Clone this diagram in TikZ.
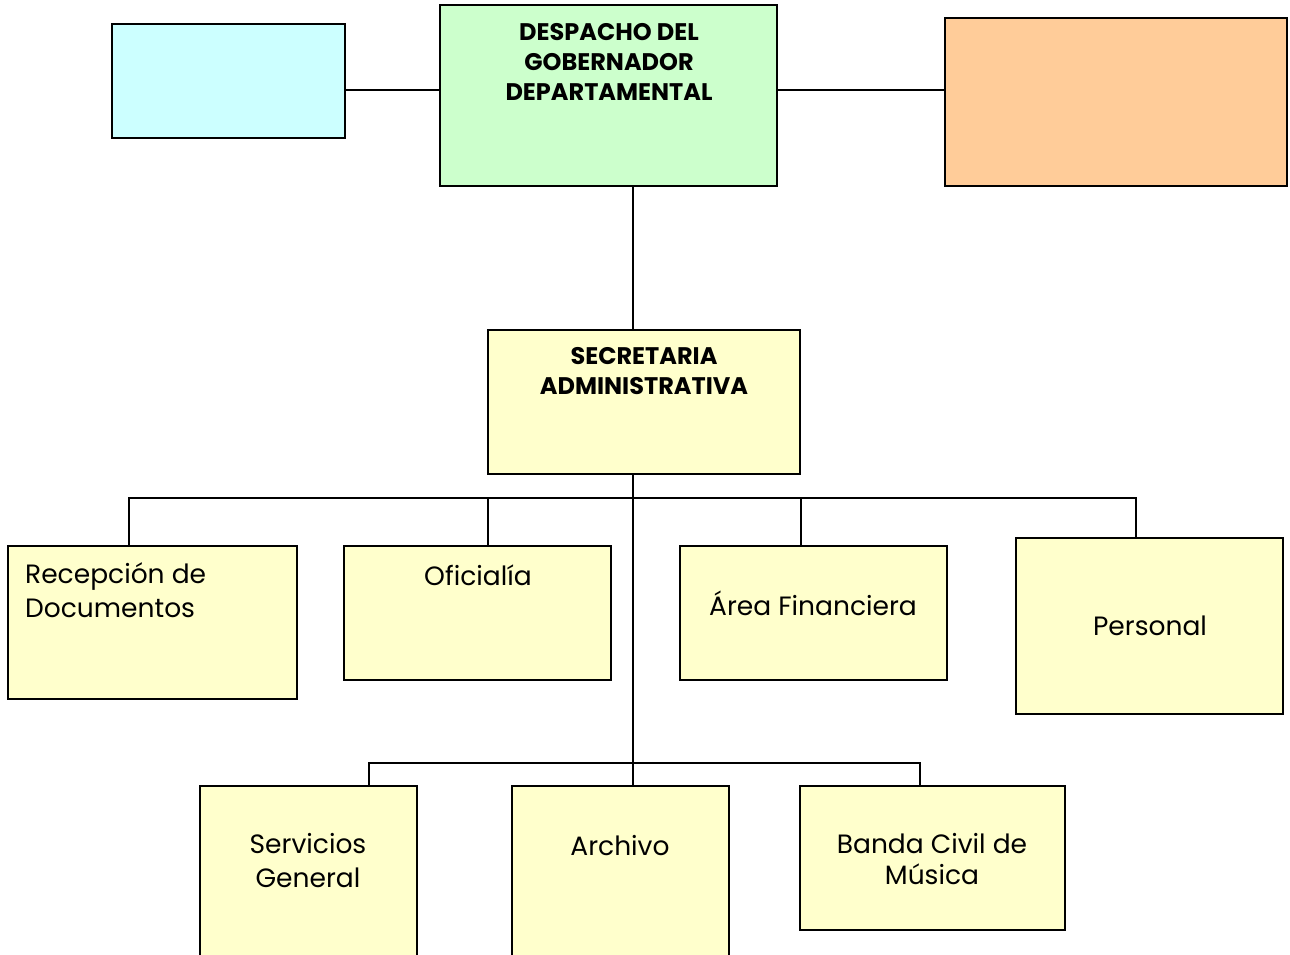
\documentclass[tikz,border=0pt]{standalone}
\usepackage{fontspec}
\setmainfont{Poppins}
\definecolor{cyanbox}{HTML}{CCFFFF}
\definecolor{greenbox}{HTML}{CCFFCC}
\definecolor{orangebox}{HTML}{FFCC99}
\definecolor{yellowbox}{HTML}{FFFFCC}
\tikzset{
  orgbox/.style={draw=black, line width=2pt, rectangle, inner sep=0pt},
  conn/.style={draw=black, line width=2pt},
  boldtxt/.style={font=\fontsize{24}{30}\selectfont\bfseries, align=center, inner sep=0pt},
  normtxt/.style={font=\fontsize{26.5}{34}\selectfont, align=center, inner sep=0pt},
}
\begin{document}
\begin{tikzpicture}[x=1pt,y=-1pt]
\useasboundingbox (0,0) rectangle (1290,954);
\clip (0,0) rectangle (1290,954);
% boxes
\node[orgbox, fill=cyanbox, minimum width=233pt, minimum height=114pt] (c1) at (228.5,81) {};
\node[orgbox, fill=greenbox, minimum width=337pt, minimum height=181pt] (desp) at (608.5,95.5) {};
\node[orgbox, fill=orangebox, minimum width=342pt, minimum height=168pt] (or) at (1116,102) {};
\node[orgbox, fill=yellowbox, minimum width=312pt, minimum height=144pt] (sec) at (644,402) {};
\node[orgbox, fill=yellowbox, minimum width=289pt, minimum height=153pt] (rec) at (152.5,622.5) {};
\node[orgbox, fill=yellowbox, minimum width=267pt, minimum height=134pt] (ofi) at (477.5,613) {};
\node[orgbox, fill=yellowbox, minimum width=267pt, minimum height=134pt] (area) at (813.5,613) {};
\node[orgbox, fill=yellowbox, minimum width=267pt, minimum height=176pt] (pers) at (1149.5,626) {};
\node[orgbox, fill=yellowbox, minimum width=217pt, minimum height=194pt] (serv) at (308.5,883) {};
\node[orgbox, fill=yellowbox, minimum width=217pt, minimum height=194pt] (arch) at (620.5,883) {};
\node[orgbox, fill=yellowbox, minimum width=265pt, minimum height=144pt] (banda) at (932.5,858) {};
% texts
\node[boldtxt] (tdesp) at (609,62) {DESPACHO DEL\\GOBERNADOR\\DEPARTAMENTAL};
\node[boldtxt] (tsec) at (644,371) {SECRETARIA\\ADMINISTRATIVA};
\node[normtxt, align=left, anchor=west] (trec) at (25,590) {Recepción de\\Documentos};
\node[normtxt] (tofi) at (478,575) {Oficialía};
\node[normtxt] (tarea) at (813,603) {Área Financiera};
\node[normtxt] (tpers) at (1150,626) {Personal};
\node[normtxt] (tserv) at (308,861) {Servicios\\General};
\node[normtxt] (tarch) at (620,846) {Archivo};
\node[normtxt, font=\fontsize{26.5}{31}\selectfont] (tbanda) at (932,859) {Banda Civil de\\Música};
% connectors
\coordinate (hl) at ([yshift=5.5pt]desp.west);
\coordinate (hr) at ([yshift=5.5pt]desp.east);
\draw[conn] (c1.east |- hl) -- (hl);
\draw[conn] (hr) -- (or.west |- hr);
\coordinate (vtop) at ([xshift=24.5pt]desp.south);
\draw[conn] (vtop) -- (vtop |- sec.north);
\coordinate (trunk) at ([xshift=-11pt]sec.south);
\draw[conn] (trunk) -- (trunk |- arch.north);
\coordinate (bus) at (633,498);
\coordinate (lbus) at (633,763);
\draw[conn] ([xshift=-23.5pt]rec.north) |- (bus) -| ([xshift=-13.5pt]pers.north);
\draw[conn] ([xshift=10.5pt]ofi.north) -- ([xshift=10.5pt]ofi.north |- bus);
\draw[conn] ([xshift=-12.5pt]area.north) -- ([xshift=-12.5pt]area.north |- bus);
\draw[conn] ([xshift=60.5pt]serv.north) |- (lbus) -| ([xshift=-12.5pt]banda.north);
\end{tikzpicture}
\end{document}
